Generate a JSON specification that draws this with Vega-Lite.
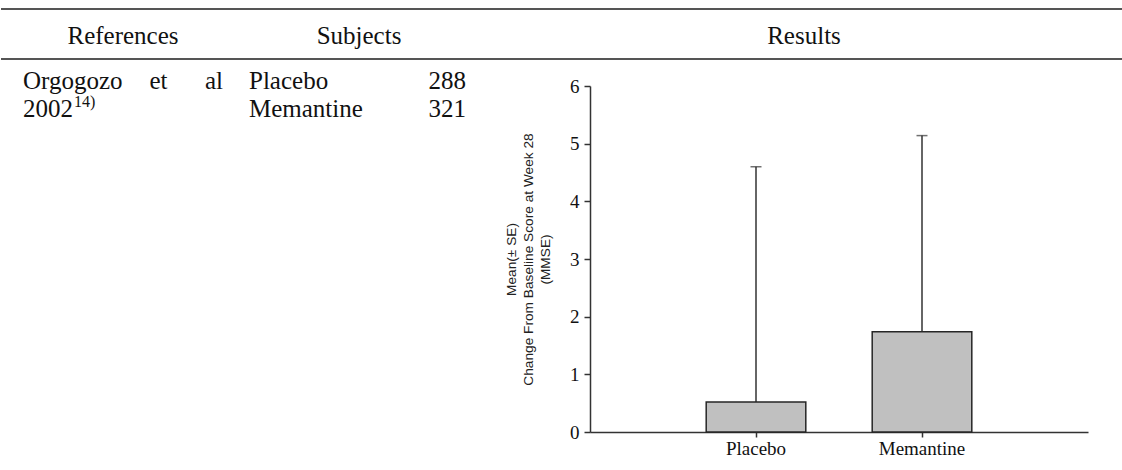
{
  "$schema": "https://vega.github.io/schema/vega-lite/v6.json",
  "background": "white",
  "padding": {"top": 8, "left": 0, "right": 0, "bottom": 0},
  "config": {
    "view": {"stroke": null},
    "text": {"font": "Liberation Serif", "fontSize": 25, "color": "#111111"}
  },
  "bounds": "flush",
  "spacing": 27,
  "vconcat": [
    {
      "width": 1122,
      "height": 50,
      "layer": [
        {
          "data": {"values": [{"edge": "top"}, {"edge": "bottom"}]},
          "mark": {"type": "rule", "color": "#555555", "strokeWidth": 2},
          "encoding": {
            "y": {
              "field": "edge",
              "type": "nominal",
              "scale": {"type": "point", "domain": ["top", "bottom"], "padding": 0},
              "axis": null
            }
          }
        },
        {
          "data": {
            "values": [
              {"col": 1, "heading": "References"},
              {"col": 2, "heading": "Subjects"},
              {"col": 3, "heading": "Results"}
            ]
          },
          "mark": {"type": "text", "align": "center", "baseline": "middle", "dy": 2},
          "encoding": {
            "x": {
              "field": "col",
              "type": "quantitative",
              "scale": {"domain": [1, 2, 3], "range": [122, 358, 803], "nice": false, "zero": false},
              "axis": null
            },
            "text": {"field": "heading"}
          }
        }
      ]
    },
    {
      "bounds": "flush",
      "spacing": 0,
      "hconcat": [
        {
          "width": 589,
          "height": 346,
          "data": {
            "values": [
              {"line": 1, "col": 1, "text": "Orgogozo"},
              {"line": 1, "col": 3, "text": "et"},
              {"line": 1, "col": 4, "text": "al"},
              {"line": 2, "col": 1, "text": "2002"},
              {"line": 2, "col": 2, "text": "14)"},
              {"line": 1, "col": 5, "text": "Placebo"},
              {"line": 2, "col": 5, "text": "Memantine"},
              {"line": 1, "col": 6, "text": "288"},
              {"line": 2, "col": 6, "text": "321"}
            ]
          },
          "encoding": {
            "x": {
              "field": "col",
              "type": "quantitative",
              "scale": {"domain": [1, 2, 3, 4, 5, 6], "range": [22, 73, 157.5, 222, 248, 465], "nice": false, "zero": false},
              "axis": null
            },
            "y": {
              "field": "line",
              "type": "quantitative",
              "scale": {"domain": [1, 2], "range": [3, 31], "nice": false, "zero": false},
              "axis": null
            },
            "text": {"field": "text"}
          },
          "layer": [
            {
              "transform": [{"filter": "datum.col == 1 || datum.col == 5"}],
              "mark": {"type": "text", "align": "left", "baseline": "alphabetic"}
            },
            {
              "transform": [{"filter": "datum.col == 3"}],
              "mark": {"type": "text", "align": "center", "baseline": "alphabetic"}
            },
            {
              "transform": [{"filter": "datum.col == 4 || datum.col == 6"}],
              "mark": {"type": "text", "align": "right", "baseline": "alphabetic"}
            },
            {
              "transform": [{"filter": "datum.col == 2"}],
              "mark": {"type": "text", "align": "left", "baseline": "alphabetic", "fontSize": 16, "dy": -10}
            }
          ]
        },
        {
          "width": 498,
          "height": 346,
          "data": {
            "values": [
              {"group": "Placebo", "mean": 0.52, "upper": 4.6},
              {"group": "Memantine", "mean": 1.74, "upper": 5.14}
            ]
          },
          "encoding": {
            "x": {
              "field": "group",
              "type": "nominal",
              "sort": ["Placebo", "Memantine"],
              "scale": {"paddingInner": 0.4, "paddingOuter": 0.7},
              "axis": {
                "title": null,
                "labelAngle": 0,
                "labelFont": "Liberation Serif",
                "labelFontSize": 19,
                "labelColor": "#111111",
                "labelPadding": 2,
                "tickSize": 5,
                "tickColor": "#333333",
                "tickWidth": 1.5,
                "domainColor": "#333333",
                "domainWidth": 1.5
              }
            }
          },
          "layer": [
            {
              "mark": {"type": "rule", "color": "#333333", "strokeWidth": 1.5},
              "encoding": {
                "y": {
                  "field": "mean",
                  "type": "quantitative",
                  "scale": {"domain": [0, 6], "nice": false},
                  "axis": {
                    "title": ["Mean(± SE)", "Change From Baseline Score at Week 28", "(MMSE)"],
                    "values": [0, 1, 2, 3, 4, 5, 6],
                    "format": "d",
                    "grid": false,
                    "titleFont": "Liberation Sans",
                    "titleFontSize": 13.7,
                    "titleFontWeight": "normal",
                    "titleColor": "#222222",
                    "titleLineHeight": 17,
                    "titlePadding": 17,
                    "labelFont": "Liberation Serif",
                    "labelFontSize": 19,
                    "labelColor": "#111111",
                    "labelPadding": 5,
                    "labelFlush": false,
                    "tickSize": 6,
                    "tickColor": "#333333",
                    "tickWidth": 1.5,
                    "domainColor": "#333333",
                    "domainWidth": 1.5
                  }
                },
                "y2": {"field": "upper"}
              }
            },
            {
              "mark": {"type": "bar", "fill": "#c0c0c0", "stroke": "#262626", "strokeWidth": 1.5},
              "encoding": {
                "y": {"field": "mean", "type": "quantitative"}
              }
            },
            {
              "mark": {"type": "tick", "orient": "horizontal", "size": 11, "thickness": 1.5, "color": "#333333"},
              "encoding": {
                "y": {"field": "upper", "type": "quantitative"}
              }
            }
          ]
        }
      ]
    }
  ]
}
